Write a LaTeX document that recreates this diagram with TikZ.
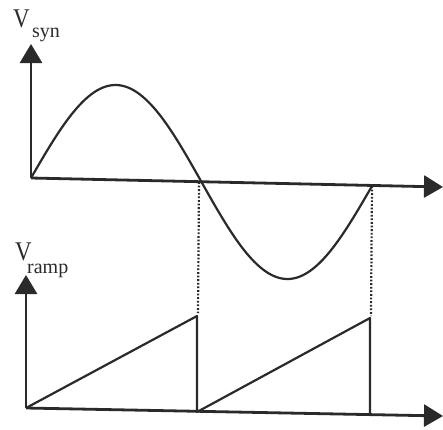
\documentclass[tikz,border=0pt]{standalone}
\usepackage{fontspec}
\setmainfont{Liberation Serif}
\usetikzlibrary{arrows.meta}
\definecolor{ink}{HTML}{2A2A2A}
\begin{document}
\begin{tikzpicture}[x=1pt,y=-1pt,
  axis/.style={draw=ink,line width=2.8pt,-{Triangle[length=19pt,width=22pt]}},
  wave/.style={draw=ink,line width=2.2pt,line join=round},
  guide/.style={draw=ink,line width=2.2pt,dash pattern=on 1.8pt off 1.8pt},
  bigV/.style={font=\fontsize{27}{27}\selectfont,anchor=base west,inner sep=0pt,text=ink,xscale=0.85,transform shape},
  subl/.style={font=\fontsize{20}{20}\selectfont,anchor=base west,inner sep=0pt,text=ink}]
\useasboundingbox (0,0) rectangle (443,429);
% top panel
\coordinate (o1) at (31,178);
\coordinate (y1) at (31,44);
\coordinate (x1) at (443,187);
\coordinate (z1) at (199,182);
\coordinate (e1) at (372,186);
\draw[axis] (o1) -- (y1);
\draw[axis] (o1) -- (x1);
\draw[wave] plot[domain=0:1,samples=120,smooth] ({31+341*\x},{178+8*\x-95*sin(360*\x)});
\node[bigV] (vs) at (13,27) {V};
\node[subl] (vss) at (32,37) {syn};
% bottom panel
\coordinate (o2) at (26,408);
\coordinate (y2) at (26,275);
\coordinate (x2) at (443,416);
\coordinate (p1) at (197,316);
\coordinate (b1) at (197,412);
\coordinate (p2) at (370,318);
\coordinate (b2) at (370,414);
\draw[axis] (o2) -- (y2);
\draw[axis] (o2) -- (x2);
\draw[wave] (o2) -- (p1) -- (b1) -- (p2) -- (b2);
\node[bigV] (vr) at (15,260) {V};
\node[subl] (vrs) at (27,273) {ramp};
% dotted guides
\coordinate (d1) at (198,313);
\coordinate (d2) at (371,316);
\draw[guide] (z1) -- (d1);
\draw[guide] (e1) -- (d2);
\end{tikzpicture}
\end{document}
